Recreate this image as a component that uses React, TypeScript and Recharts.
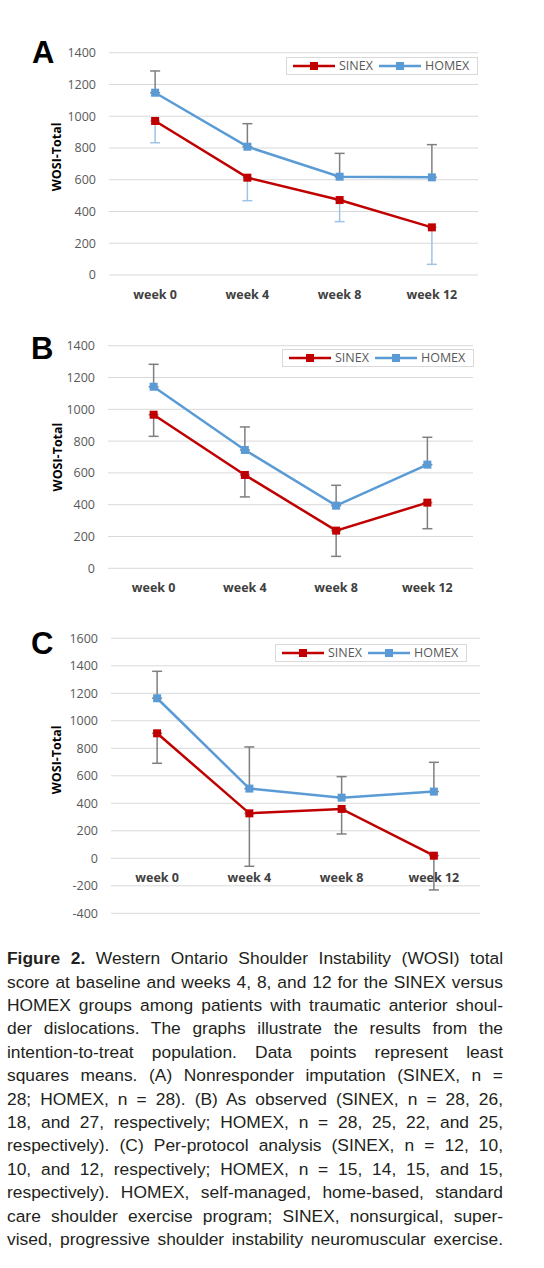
import { LineChart, Line, XAxis, YAxis, CartesianGrid, ErrorBar, Legend, ReferenceDot } from "recharts";

// Time points shared by all three panels.
const WEEKS = ["week 0", "week 4", "week 8", "week 12"];
const SERIES_NAMES = ["SINEX", "HOMEX"];

// (A) Nonresponder imputation: least squares means, SINEX lower / HOMEX upper error bar ends.
const SINEX_A = [970, 613, 472, 300];
const SINEX_A_LOW = [833, 468, 336, 67];
const HOMEX_A = [1148, 808, 619, 615];
const HOMEX_A_HIGH = [1285, 953, 766, 821];

// (B) As observed.
const SINEX_B = [966, 587, 237, 413];
const SINEX_B_LOW = [830, 449, 75, 249];
const HOMEX_B = [1142, 744, 394, 652];
const HOMEX_B_HIGH = [1283, 889, 522, 824];

// (C) Per-protocol analysis.
const SINEX_C = [909, 327, 359, 19];
const SINEX_C_LOW = [691, -58, 177, -230];
const HOMEX_C = [1164, 507, 441, 485];
const HOMEX_C_HIGH = [1360, 810, 594, 698];

const TICKS_AB = [0, 200, 400, 600, 800, 1000, 1200, 1400];
const TICKS_C = [-400, -200, 0, 200, 400, 600, 800, 1000, 1200, 1400, 1600];

const FIGURE_LABEL = "Figure 2.";
const CAPTION_LINES = [
  " Western Ontario Shoulder Instability (WOSI) total",
  "score at baseline and weeks 4, 8, and 12 for the SINEX versus",
  "HOMEX groups among patients with traumatic anterior shoul-",
  "der dislocations. The graphs illustrate the results from the",
  "intention-to-treat population. Data points represent least",
  "squares means. (A) Nonresponder imputation (SINEX, n =",
  "28; HOMEX, n = 28). (B) As observed (SINEX, n = 28, 26,",
  "18, and 27, respectively; HOMEX, n = 28, 25, 22, and 25,",
  "respectively). (C) Per-protocol analysis (SINEX, n = 12, 10,",
  "10, and 12, respectively; HOMEX, n = 15, 14, 15, and 15,",
  "respectively). HOMEX, self-managed, home-based, standard",
  "care shoulder exercise program; SINEX, nonsurgical, super-",
  "vised, progressive shoulder instability neuromuscular exercise.",
];

const RED = "#C00000";
const BLUE = "#5B9BD5";
const GRID = "#D9D9D9";
const BAR_GRAY = "#7F7F7F";
const BAR_LIGHT = "#9DC3E6";
const FONT = "'Open Sans', sans-serif";
const CHART_W = 544;
const Y_AXIS_W = 60;

type Row = {
  week: string;
  sinex: number;
  homex: number;
  sinexErr: [number, number];
  homexErr: [number, number];
};

function buildRows(sinex: number[], sinexLow: number[], homex: number[], homexHigh: number[]): Row[] {
  return WEEKS.map((week, i) => ({
    week,
    sinex: sinex[i],
    homex: homex[i],
    // only the lower half for SINEX, only the upper half for HOMEX
    sinexErr: [sinex[i] - sinexLow[i], 0],
    homexErr: [0, homexHigh[i] - homex[i]],
  }));
}

const ROWS_A = buildRows(SINEX_A, SINEX_A_LOW, HOMEX_A, HOMEX_A_HIGH);
const ROWS_B = buildRows(SINEX_B, SINEX_B_LOW, HOMEX_B, HOMEX_B_HIGH);
const ROWS_C = buildRows(SINEX_C, SINEX_C_LOW, HOMEX_C, HOMEX_C_HIGH);

// Square markers like the spreadsheet defaults.
const squareDot = (color: string) => (props: any) => {
  const { cx, cy, index } = props;
  if (cx == null || cy == null) return <g key={`sq-${index}`} />;
  return <rect key={`sq-${index}`} x={cx - 4} y={cy - 4} width={8} height={8} fill={color} />;
};

function LegendBox(props: any) {
  const items = [...(props.payload ?? [])].sort(
    (a: any, b: any) => SERIES_NAMES.indexOf(a.value) - SERIES_NAMES.indexOf(b.value)
  );
  return (
    <div
      style={{
        display: "flex",
        alignItems: "center",
        border: `1px solid ${GRID}`,
        background: "#fff",
        padding: "0 2px 0 6px",
        height: 16,
        fontSize: 12.5,
        lineHeight: "16px",
        color: "#595959",
        fontFamily: FONT,
        whiteSpace: "nowrap",
      }}
    >
      {items.map((item: any) => (
        <span key={item.value} style={{ display: "flex", alignItems: "center", marginRight: 6 }}>
          <svg width={42} height={10}>
            <line x1={0} y1={5} x2={42} y2={5} stroke={item.color} strokeWidth={2.5} />
            <rect x={17} y={1} width={8} height={8} fill={item.color} />
          </svg>
          <span style={{ marginLeft: 4 }}>{item.value}</span>
        </span>
      ))}
    </div>
  );
}

type PanelProps = {
  rows: Row[];
  top: number;
  height: number;
  margin: { top: number; right: number; bottom: number; left: number };
  ticks: number[];
  lowBarColor: string;
  zeroAxis?: boolean;
  legendTop: number;
  legendLeft: number;
  titleOffset: number;
  titleLift: number;
  letter: string;
  letterTop: number;
  letterLeft: number;
};

function Panel(p: PanelProps) {
  const plotW = CHART_W - p.margin.left - p.margin.right - Y_AXIS_W;
  const pad = plotW / WEEKS.length / 2;
  const domain: [number, number] = [p.ticks[0], p.ticks[p.ticks.length - 1]];
  const weekTick = { fill: "#404040", fontSize: 12.5, fontWeight: 700 };

  return (
    <>
      <div
        style={{
          position: "absolute",
          left: p.letterLeft,
          top: p.letterTop,
          fontFamily: "'Liberation Sans', Arial, sans-serif",
          fontWeight: 700,
          fontSize: 31,
          lineHeight: "31px",
          color: "#000",
        }}
      >
        {p.letter}
      </div>
      <div style={{ position: "absolute", left: 0, top: p.top, width: CHART_W, height: p.height, fontFamily: FONT }}>
        <LineChart width={CHART_W} height={p.height} data={p.rows} margin={p.margin}>
          <CartesianGrid vertical={false} stroke={GRID} strokeWidth={1} />
          <XAxis
            dataKey="week"
            hide={p.zeroAxis}
            height={30}
            axisLine={false}
            tickLine={false}
            tickSize={0}
            tickMargin={15}
            interval={0}
            padding={{ left: pad, right: pad }}
            tick={weekTick}
          />
          <YAxis
            type="number"
            domain={domain}
            ticks={p.ticks}
            interval={0}
            width={Y_AXIS_W}
            axisLine={false}
            tickLine={false}
            tickSize={0}
            tickMargin={13}
            tick={{ fill: "#595959", fontSize: 12.5 }}
            label={{
              value: "WOSI-Total",
              angle: -90,
              position: "insideLeft",
              offset: p.titleOffset,
              textAnchor: "middle",
              dy: -p.titleLift,
              fill: "#000",
              fontSize: 12.5,
              fontWeight: 700,
            }}
          />
          <Legend
            layout="vertical"
            verticalAlign="middle"
            align="center"
            content={LegendBox}
            wrapperStyle={{ top: p.legendTop, left: p.legendLeft, width: "auto" }}
          />
          <Line
            name="SINEX"
            dataKey="sinex"
            stroke={RED}
            strokeWidth={2.5}
            dot={squareDot(RED)}
            activeDot={false}
            isAnimationActive={false}
          >
            <ErrorBar dataKey="sinexErr" direction="y" width={5} stroke={p.lowBarColor} strokeWidth={1.5} />
          </Line>
          <Line
            name="HOMEX"
            dataKey="homex"
            stroke={BLUE}
            strokeWidth={2.5}
            dot={squareDot(BLUE)}
            activeDot={false}
            isAnimationActive={false}
          >
            <ErrorBar dataKey="homexErr" direction="y" width={5} stroke={BAR_GRAY} strokeWidth={1.5} />
          </Line>
          {/* category labels sit on the zero line when the value axis goes negative */}
          {p.zeroAxis &&
            p.rows.map((r) => (
              <ReferenceDot
                key={r.week}
                x={r.week}
                y={0}
                r={0}
                stroke="none"
                fill="none"
                label={{ value: r.week, position: "bottom", offset: 15, ...weekTick }}
              />
            ))}
        </LineChart>
      </div>
    </>
  );
}

export default function App() {
  return (
    <div style={{ position: "absolute", left: 0, top: 0, width: 544, height: 1268, background: "#fff" }}>
      <Panel
        rows={ROWS_A}
        top={20}
        height={300}
        margin={{ top: 32.7, right: 66, bottom: 15, left: 49 }}
        ticks={TICKS_AB}
        lowBarColor={BAR_LIGHT}
        legendTop={37}
        legendLeft={286}
        titleOffset={8}
        titleLift={7}
        letter="A"
        letterTop={36.5}
        letterLeft={32}
      />
      <Panel
        rows={ROWS_B}
        top={320}
        height={290}
        margin={{ top: 25.7, right: 71, bottom: 11.7, left: 48 }}
        ticks={TICKS_AB}
        lowBarColor={BAR_GRAY}
        legendTop={29}
        legendLeft={282}
        titleOffset={10}
        titleLift={0}
        letter="B"
        letterTop={333.4}
        letterLeft={31}
      />
      <Panel
        rows={ROWS_C}
        top={610}
        height={320}
        margin={{ top: 28.3, right: 64, bottom: 16.7, left: 51 }}
        ticks={TICKS_C}
        lowBarColor={BAR_GRAY}
        zeroAxis
        legendTop={34}
        legendLeft={275}
        titleOffset={6}
        titleLift={16}
        letter="C"
        letterTop={628.4}
        letterLeft={31}
      />
      <div
        style={{
          position: "absolute",
          left: 7,
          top: 947.3,
          width: 496,
          fontFamily: "'Liberation Sans', Arial, sans-serif",
          fontSize: 17.4,
          color: "#231F20",
        }}
      >
        {CAPTION_LINES.map((line, i) => (
          <div
            key={i}
            style={{
              height: 23.4,
              lineHeight: "23.4px",
              whiteSpace: "nowrap",
              textAlign: "justify",
              textAlignLast: i === CAPTION_LINES.length ? "auto" : "justify",
            }}
          >
            {i === 0 && <b>{FIGURE_LABEL}</b>}
            {line}
          </div>
        ))}
      </div>
    </div>
  );
}
